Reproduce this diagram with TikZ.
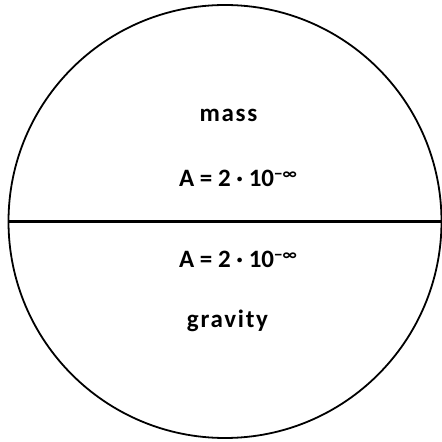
\documentclass[tikz,border=0pt]{standalone}
\usepackage{fontspec}
\setmainfont{Carlito}
\newfontfamily\espace[LetterSpace=7]{Carlito}
\usepackage{xcolor}
\usepackage{tikz}
\usetikzlibrary{positioning}
\definecolor{trait}{HTML}{000000}
\newcommand{\expinf}{\raisebox{0.6ex}{\fontsize{17}{17}\selectfont −∞}}

\begin{document}
\begin{tikzpicture}[x=1pt, y=1pt, every node/.style={font=\fontsize{25}{28}\selectfont\bfseries},
  lbl/.style={anchor=base, inner sep=0pt},
  mot/.style={lbl, font=\espace\fontsize{25}{28}\selectfont\bfseries}]
  \useasboundingbox (0,0) rectangle (442,442);
  % disque
  \node[draw=trait, circle, line width=1.8pt, minimum size=433pt, inner sep=0pt, outer sep=0pt] (disque) at (225,220.5) {};
  % diametre
  \draw[trait, line width=2.8pt] (disque.west) -- (disque.east);
  % moitie haute
  \node[mot] (masse) at (228.5,320.5) {mass};
  \node[lbl] (formhaut) at (238,255) {A = 2 · 10\expinf};
  % moitie basse
  \node[lbl] (formbas) at (238,174) {A = 2 · 10\expinf};
  \node[mot] (gravite) at (227.5,114) {gravity};
\end{tikzpicture}
\end{document}
